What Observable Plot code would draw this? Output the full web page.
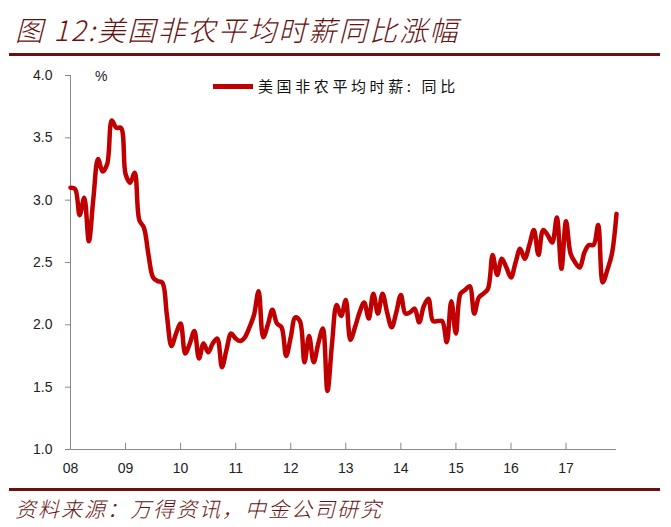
<!DOCTYPE html>
<html><head><meta charset="utf-8">
<script src="https://cdn.jsdelivr.net/npm/d3@7"></script>
<script src="https://cdn.jsdelivr.net/npm/@observablehq/plot@0.6"></script>
<style>
body{margin:0;background:#fff;}
#wrap{position:relative;width:671px;height:527px;overflow:hidden;background:#fff;font-family:"Liberation Sans",Arial,sans-serif;}
#title{position:absolute;left:15px;top:12px;font-family:"Noto Sans CJK SC",sans-serif;font-weight:300;font-style:italic;font-size:28px;letter-spacing:2.2px;color:#6a1010;line-height:34px;white-space:nowrap;}
.rule{position:absolute;left:9px;width:651px;height:3px;background:#6a1010;}
#chart{position:absolute;left:0;top:60px;}
#source{position:absolute;left:15px;top:494px;font-family:"Noto Sans CJK SC",sans-serif;font-weight:300;font-style:italic;font-size:21px;letter-spacing:2px;color:#6a1010;line-height:28px;white-space:nowrap;}
#legend{position:absolute;left:213px;top:76px;height:20px;white-space:nowrap;}
#legend .sw{position:absolute;left:0;top:8px;width:40px;height:5px;background:#c00000;}
#legend .tx{position:absolute;left:45px;top:0;font-family:"Noto Sans CJK SC",sans-serif;font-size:15px;letter-spacing:3.6px;color:#111;line-height:20px;}
#pct{position:absolute;left:95px;top:68px;font-size:14px;color:#222;}
</style></head><body>
<div id="wrap">
  <div id="title">图 12:美国非农平均时薪同比涨幅</div>
  <div class="rule" style="top:53px"></div>
  <div id="chart"></div>
  <div id="pct">%</div>
  <div id="legend"><div class="sw"></div><div class="tx">美国非农平均时薪: 同比</div></div>
  <div class="rule" style="top:488px"></div>
  <div id="source">资料来源：万得资讯，中金公司研究</div>
</div>
<script>
// Monthly YoY %, Jan 2008 .. Dec 2017
const values = [
  3.10,3.09,2.88,3.02,2.67,3.02,3.33,3.23,3.29,3.64,3.58,3.58,
  3.21,3.14,3.22,2.84,2.78,2.56,2.38,2.35,2.34,2.08,1.83,1.93,
  2.01,1.77,1.85,1.95,1.73,1.85,1.78,1.85,1.89,1.66,1.80,1.93,
  1.89,1.87,1.90,1.98,2.08,2.27,1.90,2.00,2.12,2.01,1.98,1.75,
  1.90,2.06,2.03,1.70,1.91,1.70,1.85,1.97,1.47,1.85,2.16,2.07,
  2.20,1.88,1.98,2.10,2.18,2.05,2.25,2.09,2.25,2.10,1.98,2.10,
  2.24,2.09,2.10,2.13,2.02,2.15,2.21,2.03,2.03,2.03,1.86,2.19,
  1.93,2.25,2.28,2.31,2.09,2.22,2.25,2.29,2.56,2.40,2.53,2.46,
  2.38,2.50,2.61,2.53,2.64,2.76,2.56,2.76,2.72,2.66,2.86,2.45,
  2.83,2.57,2.50,2.46,2.58,2.64,2.64,2.80,2.34,2.44,2.57,2.89
];
const xTickPos = [0,12,24,36,48,60,72,84,96,108];
const xTickLabels = ["08","09","10","11","12","13","14","15","16","17"];
const yTicks = [1.0,1.5,2.0,2.5,3.0,3.5,4.0];

const data = values.map((v,i)=>({i, v}));
const axisGray = "#888";
const plot = Plot.plot({
  width: 671, height: 430,
  marginLeft: 70, marginRight: 55, marginTop: 15, marginBottom: 41,
  x: {domain: [0, values.length - 1]},
  y: {domain: [1, 4]},
  style: {fontFamily: "Liberation Sans, Arial, sans-serif", fontSize: "14px", color: "#222", background: "transparent", overflow: "visible"},
  marks: [
    Plot.axisY({ticks: yTicks, tickFormat: d3.format(".1f"), tickSize: 5, tickPadding: 13, stroke: axisGray, fill: "#222", label: null}),
    Plot.axisX({ticks: xTickPos, tickFormat: d => xTickLabels[xTickPos.indexOf(d)], tickSize: 0, tickPadding: 14, fill: "#222", label: null}),
    Plot.ruleX(xTickPos, {x: d => d, y1: 1, y2: 1.05, stroke: axisGray}),
    Plot.ruleX([0], {y1: 1, y2: 4, stroke: axisGray}),
    Plot.ruleY([1], {x1: 0, x2: values.length - 1, stroke: axisGray}),
    Plot.line(data, {x: "i", y: "v", stroke: "#c00000", strokeWidth: 4.5, curve: "catmull-rom"})
  ]
});
document.getElementById("chart").appendChild(plot);
</script>
</body></html>
